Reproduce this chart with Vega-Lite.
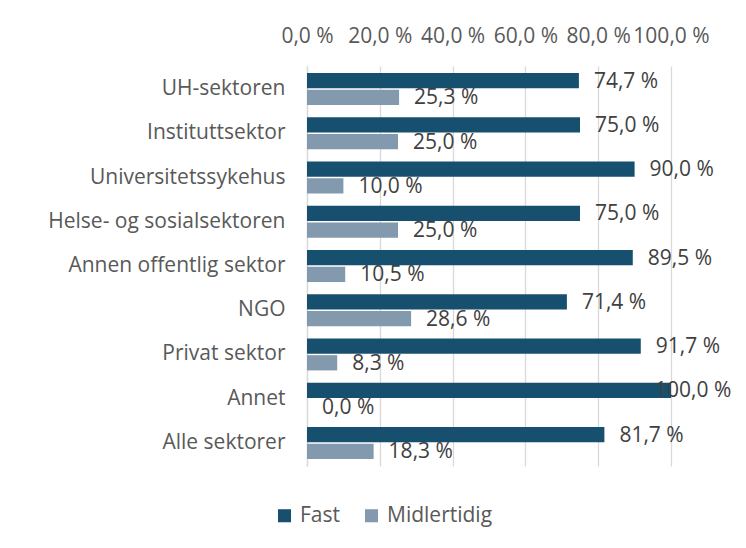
{
  "$schema": "https://vega.github.io/schema/vega-lite/v6.json",
  "width": 364,
  "height": 400,
  "autosize": "none",
  "padding": {"left": 307, "top": 66, "right": 75, "bottom": 82},
  "background": "white",
  "data": {
    "values": [
      {"sektor": "UH-sektoren", "type": "Fast", "value": 74.7},
      {"sektor": "UH-sektoren", "type": "Midlertidig", "value": 25.3},
      {"sektor": "Instituttsektor", "type": "Fast", "value": 75.0},
      {"sektor": "Instituttsektor", "type": "Midlertidig", "value": 25.0},
      {"sektor": "Universitetssykehus", "type": "Fast", "value": 90.0},
      {"sektor": "Universitetssykehus", "type": "Midlertidig", "value": 10.0},
      {"sektor": "Helse- og sosialsektoren", "type": "Fast", "value": 75.0},
      {"sektor": "Helse- og sosialsektoren", "type": "Midlertidig", "value": 25.0},
      {"sektor": "Annen offentlig sektor", "type": "Fast", "value": 89.5},
      {"sektor": "Annen offentlig sektor", "type": "Midlertidig", "value": 10.5},
      {"sektor": "NGO", "type": "Fast", "value": 71.4},
      {"sektor": "NGO", "type": "Midlertidig", "value": 28.6},
      {"sektor": "Privat sektor", "type": "Fast", "value": 91.7},
      {"sektor": "Privat sektor", "type": "Midlertidig", "value": 8.3},
      {"sektor": "Annet", "type": "Fast", "value": 100.0},
      {"sektor": "Annet", "type": "Midlertidig", "value": 0.0},
      {"sektor": "Alle sektorer", "type": "Fast", "value": 81.7},
      {"sektor": "Alle sektorer", "type": "Midlertidig", "value": 18.3}
    ]
  },
  "transform": [
    {"calculate": "replace(format(datum.value, '.1f'), '.', ',') + ' %'", "as": "label"}
  ],
  "encoding": {
    "y": {
      "field": "sektor",
      "type": "nominal",
      "sort": null,
      "scale": {"paddingInner": 0.28, "paddingOuter": 0.16},
      "axis": {
        "title": null,
        "ticks": false,
        "domain": true,
        "domainColor": "#d9d9d9",
        "domainWidth": 1.3,
        "labelFontSize": 21,
        "labelColor": "#595959",
        "labelPadding": 22,
        "labelLimit": 0,
        "labelFont": "Open Sans"
      }
    },
    "yOffset": {
      "field": "type",
      "type": "nominal",
      "scale": {"paddingInner": 0.08}
    },
    "x": {
      "field": "value",
      "type": "quantitative",
      "scale": {"domain": [0, 100], "nice": false},
      "axis": {
        "orient": "top",
        "title": null,
        "values": [0, 20, 40, 60, 80, 100],
        "labelExpr": "replace(format(datum.value, '.1f'), '.', ',') + ' %'",
        "labelOverlap": false,
        "labelBound": false,
        "labelFlush": false,
        "ticks": false,
        "domain": false,
        "grid": true,
        "gridColor": "#d9d9d9",
        "gridWidth": 1.3,
        "labelFontSize": 21,
        "labelColor": "#595959",
        "labelPadding": 20,
        "labelFont": "Open Sans"
      }
    }
  },
  "layer": [
    {
      "mark": {"type": "bar"},
      "encoding": {
        "color": {
          "field": "type",
          "type": "nominal",
          "scale": {"domain": ["Fast", "Midlertidig"], "range": ["#17506f", "#8399ae"]},
          "legend": {
            "title": null,
            "orient": "none",
            "direction": "horizontal",
            "legendX": -33,
            "legendY": 439,
            "symbolType": "square",
            "symbolSize": 170,
            "symbolStrokeWidth": 0,
            "labelFontSize": 21,
            "labelColor": "#595959",
            "labelFont": "Open Sans",
            "columnPadding": 20,
            "labelOffset": 5
          }
        }
      }
    },
    {
      "transform": [{"filter": "datum.value < 95"}],
      "mark": {"type": "text", "align": "left", "baseline": "middle", "dx": 15, "dy": 1, "fontSize": 21, "color": "#404040", "font": "Open Sans"},
      "encoding": {
        "text": {"field": "label"}
      }
    },
    {
      "transform": [{"filter": "datum.value >= 95"}],
      "mark": {"type": "text", "align": "left", "baseline": "middle", "dx": -16, "dy": 1, "fontSize": 21, "color": "#404040", "font": "Open Sans"},
      "encoding": {
        "text": {"field": "label"}
      }
    }
  ],
  "config": {
    "view": {"stroke": null}
  }
}
